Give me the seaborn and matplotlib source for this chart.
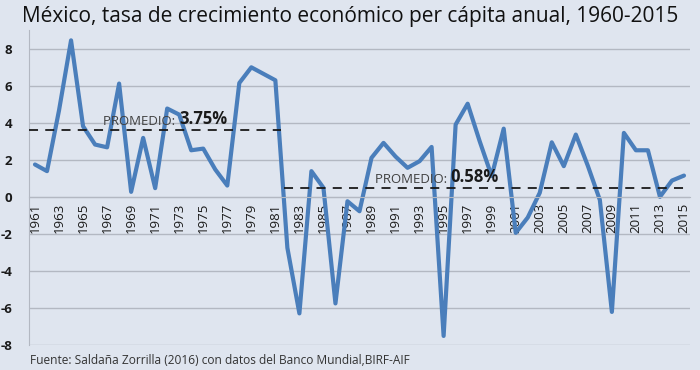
"""
Mexico per capita GDP growth 1960-2015, with period averages.
"""
import matplotlib
matplotlib.use("Agg")
import matplotlib.pyplot as plt
import seaborn as sns
import pandas as pd

# data
years = list(range(1961, 2016))
growth = [1.77, 1.41, 4.7, 8.49, 3.84, 2.85, 2.7, 6.15, 0.29, 3.21,
          0.49, 4.8, 4.47, 2.54, 2.63, 1.5, 0.63, 6.18, 7.03, 6.68,
          6.33, -2.74, -6.29, 1.41, 0.51, -5.75, -0.22, -0.76, 2.13, 2.94,
          2.2, 1.59, 1.95, 2.72, -7.51, 3.93, 5.06, 3.03, 1.14, 3.71,
          -1.93, -1.1, 0.24, 2.97, 1.68, 3.39, 1.7, -0.15, -6.21, 3.48,
          2.54, 2.54, 0.02, 0.9, 1.17]

avg_starts = [1960.5, 1981.7]
avg_ends = [1981.5, 2015.3]
avg_values = [3.66, 0.51]
avg_labels = ["3.75%", "0.58%"]

BG = "#dfe5ef"
LINE = "#4a7ebb"
GRID = "#b3b8c2"

df = pd.DataFrame({"year": years, "growth": growth})

sns.set_style("white")
plt.rcParams["font.family"] = ["Open Sans", "DejaVu Sans"]
plt.rcParams["axes.unicode_minus"] = False

fig = plt.figure(figsize=(7, 3.7), dpi=100, facecolor=BG)
ax = fig.add_axes([0.0414, 0.0676, 0.9443, 0.8513])
ax.set_facecolor(BG)

sns.lineplot(data=df, x="year", y="growth", color=LINE, linewidth=3, ax=ax)

# period averages
for x0, x1, v in zip(avg_starts, avg_ends, avg_values):
    ax.hlines(v, x0, x1, colors="#1a1a1a", linestyles=(0, (5, 4)), linewidth=1.3, zorder=3)

label_x = [1966.7, 1989.3]
for lx, v, lab in zip(label_x, avg_values, avg_labels):
    t = ax.text(lx, v + 0.1, "PROMEDIO: ", fontsize=9.5, color="#404040",
                va="bottom", ha="left")
    ax.annotate(lab, xycoords=t, xy=(1, 0), va="bottom", ha="left",
                fontsize=12, fontweight="bold", color="#1a1a1a")

ax.set_xlim(1960.5, 2015.5)
ax.set_ylim(-8, 9.05)
ax.set_yticks(range(-8, 9, 2))
ax.yaxis.grid(True, color=GRID, linewidth=1)
ax.set_axisbelow(True)

# category style x axis sitting on zero
ax.spines["bottom"].set_position(("data", 0))
ax.spines["bottom"].set_color(GRID)
ax.spines["left"].set_color(GRID)
ax.spines["top"].set_visible(False)
ax.spines["right"].set_visible(False)
ax.set_xticks([y + 0.5 for y in range(1960, 2016)], minor=True)
ax.set_xticks(years[::2])
ax.set_xticklabels([str(y) for y in years[::2]], rotation=90, fontsize=9.5,
                   color="#1a1a1a")
ax.tick_params(axis="x", which="major", length=0, pad=4)
ax.tick_params(axis="x", which="minor", length=3, color=GRID, direction="out")
ax.tick_params(axis="y", length=0, labelsize=9.5, pad=12, labelcolor="#1a1a1a")
for lbl in ax.get_yticklabels():
    lbl.set_fontweight("bold")
ax.set_xlabel("")
ax.set_ylabel("")

fig.text(0.031, 0.955, "México, tasa de crecimiento económico per cápita anual, 1960-2015",
         fontsize=15, color="#111111", va="center", ha="left")
fig.text(0.043, 0.027, "Fuente: Saldaña Zorrilla (2016) con datos del Banco Mundial,BIRF-AIF",
         fontsize=8.6, color="#333333", va="center", ha="left")

fig.savefig("out.png", dpi=100, facecolor=BG)
plt.close(fig)
